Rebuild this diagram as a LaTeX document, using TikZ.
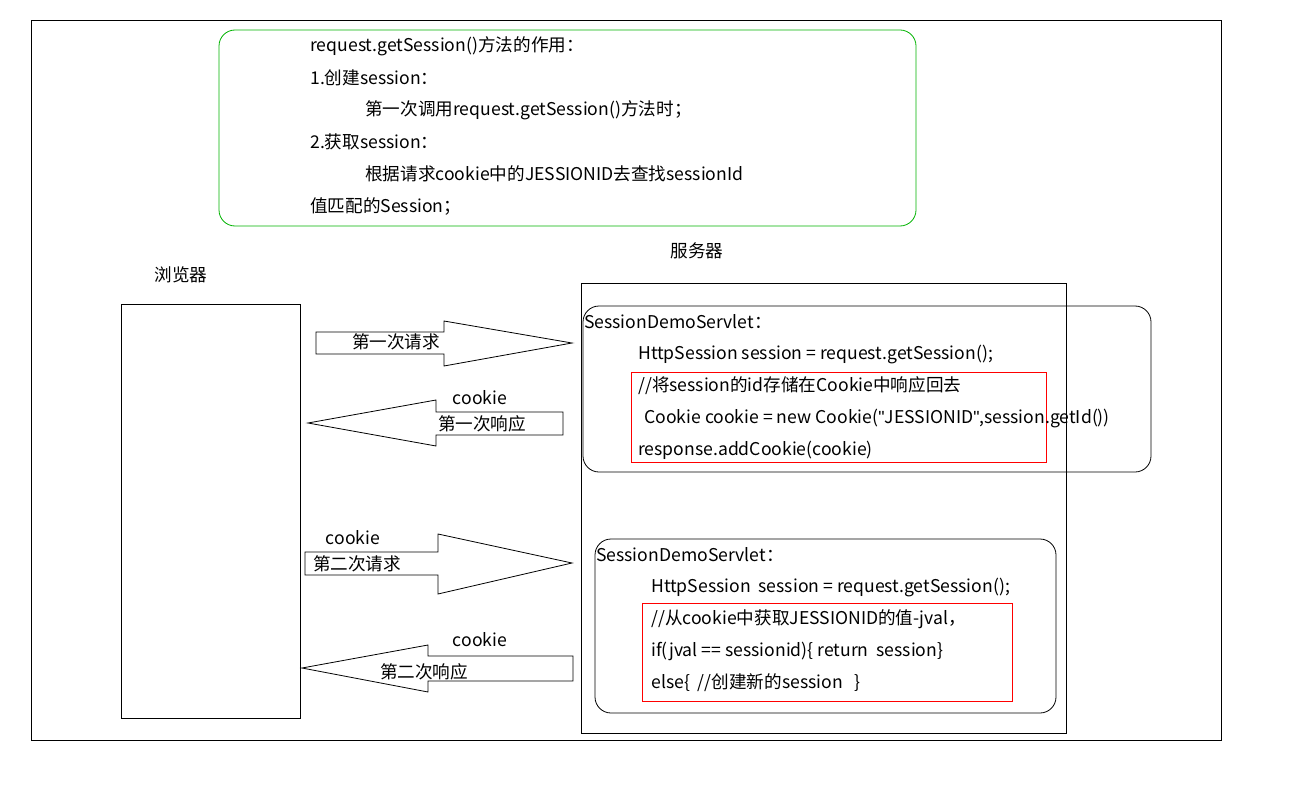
\documentclass[tikz,border=0pt]{standalone}
\usepackage{fontspec}
\setmainfont{Noto Sans CJK SC}
\newfontfamily\quotefnt{Liberation Sans}
\newcommand{\sq}{{\quotefnt\symbol{34}}}
\begin{document}
\begin{tikzpicture}[x=0.75pt,y=-0.75pt,
  txt/.style={anchor=west,inner sep=0pt,font=\fontsize{13.2}{15}\selectfont},
  ctxt/.style={inner sep=0pt,font=\fontsize{13.2}{15}\selectfont},
  box/.style={draw=black,line width=0.6pt},
  rbox/.style={draw=black,rounded corners=12pt,line width=0.6pt},
  redbox/.style={draw=red,line width=0.6pt},
  blk/.style={draw=black,fill=white,line width=0.6pt}]
\useasboundingbox (0,0) rectangle (1305,795);
\draw[box] (31,20) rectangle (1221,740);
\draw[draw=green!70!black,rounded corners=12pt,line width=0.6pt] (219,30) rectangle (916,226);
\node[txt] (t1) at (310,46) {request.getSession()方法的作用：};
\node[txt] (t2) at (310,78) {1.创建session：};
\node[txt] (t3) at (365,110) {第一次调用request.getSession()方法时；};
\node[txt] (t4) at (310,142) {2.获取session：};
\node[txt] (t5) at (365,174) {根据请求cookie中的JESSIONID去查找sessionId};
\node[txt] (t6) at (310,206) {值匹配的Session；};
\node[ctxt] (srv) at (697,251) {服务器};
\node[ctxt] (brw) at (181,275) {浏览器};
\draw[box] (121,304) rectangle (300,718);
\draw[box] (581,283) rectangle (1066,733);
% box 1
\draw[rbox] (583,306) rectangle (1151,472);
\draw[redbox] (631,372) rectangle (1046,462);
\node[txt] (a1) at (584,322) {SessionDemoServlet：};
\node[txt] (a2) at (638,354) {HttpSession session = request.getSession();};
\node[txt] (a3) at (638,386) {//将session的id存储在Cookie中响应回去};
\node[txt] (a4) at (644,418) {Cookie cookie = new Cookie(\sq JESSIONID\sq,session.getId())};
\node[txt] (a5) at (638,450) {response.addCookie(cookie)};
% box 2
\draw[rbox] (595,539) rectangle (1056,713);
\draw[redbox] (642,603) rectangle (1012,701);
\node[txt] (b1) at (596,555) {SessionDemoServlet：};
\node[txt] (b2) at (651,587) {HttpSession\ \ session = request.getSession();};
\node[txt] (b3) at (651,619) {//从cookie中获取JESSIONID的值-jval，};
\node[txt] (b4) at (651,651) {if(jval == sessionid)\{ return\ \ session\}};
\node[txt] (b5) at (651,683) {else\{\ \ //创建新的session\ \ \ \}};
% block arrows
\draw[blk] (316,332) -- (444,332) -- (444,321) -- (572,343) -- (444,366) -- (444,354) -- (316,354) -- cycle;
\node[ctxt] (l1) at (396,342) {第一次请求};
\draw[blk] (563,412) -- (436,412) -- (436,400) -- (308,423) -- (436,446) -- (436,435) -- (563,435) -- cycle;
\node[ctxt] (l2) at (482,424) {第一次响应};
\node[ctxt] (c2) at (480,398) {cookie};
\draw[blk] (305,552) -- (438,552) -- (438,534) -- (572,563) -- (438,594) -- (438,575) -- (305,575) -- cycle;
\node[ctxt] (l3) at (357,564) {第二次请求};
\node[ctxt] (c3) at (353,538) {cookie};
\draw[blk] (573,656) -- (428,656) -- (428,645) -- (302,668) -- (428,692) -- (428,681) -- (573,681) -- cycle;
\node[ctxt] (l4) at (424,672) {第二次响应};
\node[ctxt] (c4) at (480,640) {cookie};
\end{tikzpicture}
\end{document}
